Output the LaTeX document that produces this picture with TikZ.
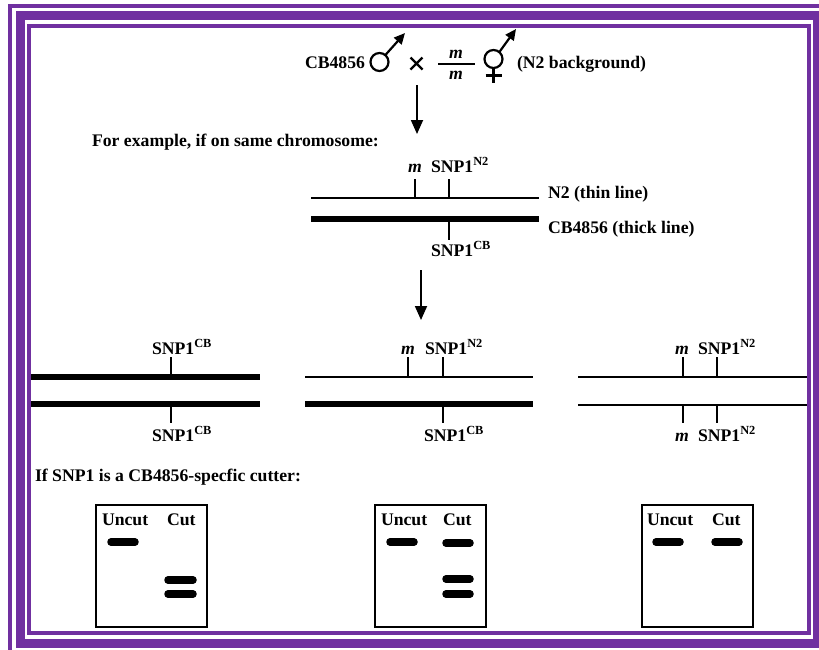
\documentclass[tikz,border=0pt]{standalone}
\usepackage{fontspec}
\setmainfont{Liberation Serif}
\usetikzlibrary{arrows.meta}
\definecolor{bpurple}{HTML}{7030A0}
\begin{document}
\begin{tikzpicture}[x=1pt,y=-1pt,
  every node/.style={inner sep=0pt, outer sep=0pt, font=\fontsize{17.7}{20}\selectfont\bfseries},
  lbl/.style={anchor=base west},
  lblc/.style={anchor=base},
  thinchr/.style={line width=1.5pt},
  thickchr/.style={line width=6pt},
  tickmark/.style={line width=1.2pt},
  flow/.style={line width=1.8pt, -{Triangle[width=12pt,length=14pt]}},
  sexsym/.style={line width=2.2pt},
  sexarrow/.style={line width=2.2pt, -{Triangle[width=10pt,length=11pt]}},
  gelbox/.style={line width=1.8pt},
  band/.style={line width=7.5pt, line cap=round},
]
\useasboundingbox (0,0) rectangle (819,649);
\fill[white] (0,0) rectangle (819,649);
% frame
\begin{scope}
\clip (0,0) rectangle (819,649);
\draw[bpurple, line width=4pt] (10,6) rectangle (829,659);
\draw[bpurple, line width=9pt] (20,15.5) rectangle (817.5,643.5);
\draw[bpurple, line width=4pt] (29,26) rectangle (809,633);
\end{scope}

% cross line
\node[lbl] (cb) at (305,68) {CB4856};
\draw[sexsym] (379.5,62) circle[radius=9pt];
\coordinate (maleA) at (385.3,55.1);
\coordinate (maleB) at (405,33);
\draw[sexarrow] (maleA) -- (maleB);
\coordinate (x1) at (410.5,57.5); \coordinate (x2) at (422.5,69.5);
\coordinate (x3) at (410.5,69.5); \coordinate (x4) at (422.5,57.5);
\draw[line width=2.2pt] (x1) -- (x2) (x3) -- (x4);
\coordinate (fr1) at (438,64); \coordinate (fr2) at (475,64);
\draw[line width=1.5pt] (fr1) -- (fr2);
\node[lblc] (mtop) at (456,58) {\textit{m}};
\node[lblc] (mbot) at (456,79) {\textit{m}};
\draw[sexsym] (493.5,59) circle[radius=9pt];
\coordinate (femA) at (499.3,52.1);
\coordinate (femB) at (516,29);
\draw[sexarrow] (femA) -- (femB);
\coordinate (fc1) at (493.5,68); \coordinate (fc2) at (493.5,83);
\coordinate (fc3) at (485.5,75.5); \coordinate (fc4) at (501.5,75.5);
\draw[sexsym] (fc1) -- (fc2) (fc3) -- (fc4);
\node[lbl] (n2bg) at (517,68) {(N2 background)};

\coordinate (a1s) at (417,85); \coordinate (a1e) at (417,134);
\draw[flow] (a1s) -- (a1e);

\node[lbl] (forex) at (92,146) {For example, if on same chromosome:};

% first chromosome pair
\draw[thinchr] (311,198) -- (539,198);
\draw[thickchr] (311,219) -- (539,219);
\draw[tickmark] (415,179) -- (415,198);
\draw[tickmark] (449,179) -- (449,198);
\draw[tickmark] (449,222) -- (449,240);
\node[lblc] (m1) at (415,172) {\textit{m}};
\node[lbl] (s1) at (431,172) {SNP1\textsuperscript{N2}};
\node[lbl] (s2) at (431,256) {SNP1\textsuperscript{CB}};
\node[lbl] (n2t) at (548,198) {N2 (thin line)};
\node[lbl] (cbt) at (548,233) {CB4856 (thick line)};

\coordinate (a2s) at (421,270); \coordinate (a2e) at (421,320);
\draw[flow] (a2s) -- (a2e);

% left pair
\draw[thickchr] (31,377) -- (260,377);
\draw[thickchr] (31,404) -- (260,404);
\draw[tickmark] (171,357) -- (171,374);
\draw[tickmark] (171,407) -- (171,423);
\node[lbl] (l1) at (152,354) {SNP1\textsuperscript{CB}};
\node[lbl] (l2) at (152,441) {SNP1\textsuperscript{CB}};

% middle pair
\draw[thinchr] (305,377) -- (533,377);
\draw[thickchr] (305,404) -- (533,404);
\draw[tickmark] (408,357) -- (408,377);
\draw[tickmark] (443,357) -- (443,377);
\draw[tickmark] (443,407) -- (443,423);
\node[lblc] (mm1) at (408,354) {\textit{m}};
\node[lbl] (ms1) at (425,354) {SNP1\textsuperscript{N2}};
\node[lbl] (ms2) at (424,441) {SNP1\textsuperscript{CB}};

% right pair
\draw[thinchr] (578,377) -- (807,377);
\draw[thinchr] (578,405) -- (807,405);
\draw[tickmark] (683,357) -- (683,377);
\draw[tickmark] (717,357) -- (717,377);
\draw[tickmark] (683,405) -- (683,423);
\draw[tickmark] (717,405) -- (717,423);
\node[lblc] (rm1) at (682,354) {\textit{m}};
\node[lbl] (rs1) at (698,354) {SNP1\textsuperscript{N2}};
\node[lblc] (rm2) at (682,441) {\textit{m}};
\node[lbl] (rs2) at (698,441) {SNP1\textsuperscript{N2}};

\node[lbl] (ifs) at (35,481) {If SNP1 is a CB4856-specfic cutter:};

% gels
\draw[gelbox] (96,505) rectangle (207,627);
\node[lbl] (u1) at (102,525) {Uncut};
\node[lbl] (c1) at (167,525) {Cut};
\draw[band] (111,542) -- (135,542);
\draw[band] (168,580) -- (193,580);
\draw[band] (168,594) -- (193,594);

\draw[gelbox] (375,505) rectangle (486,627);
\node[lbl] (u2) at (381,525) {Uncut};
\node[lbl] (c2) at (443,525) {Cut};
\draw[band] (390,542) -- (414,542);
\draw[band] (446,543) -- (470,543);
\draw[band] (446,579) -- (470,579);
\draw[band] (446,594) -- (470,594);

\draw[gelbox] (642,505) rectangle (753,627);
\node[lbl] (u3) at (647,525) {Uncut};
\node[lbl] (c3) at (712,525) {Cut};
\draw[band] (656,542) -- (680,542);
\draw[band] (715,542) -- (739,542);
\end{tikzpicture}
\end{document}
